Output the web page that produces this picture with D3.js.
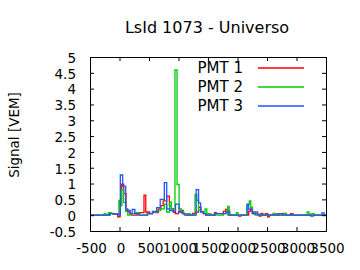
<!DOCTYPE html>
<html>
<head>
<meta charset="utf-8">
<script src="https://cdn.jsdelivr.net/npm/d3@7"></script>
<style>
  body { margin: 0; background: white; }
  text { font-family: "DejaVu Sans", sans-serif; fill: black; }
</style>
</head>
<body>
<div id="chart"></div>
<script>
var width = 360;
var height = 270;

// step data: [time ns, signal VEM] change points
var pmt1 = [[-500,0],[-170,0.06],[-110,0.03],[-30,-0.05],[10,0.3],[37,0.98],[71,0.68],[110,0.15],[140,0.1],[175,0.05],[200,0],[300,0.05],[340,0.08],[415,0.63],[445,0.1],[510,0.05],[560,0.12],[620,0.08],[660,0.2],[700,0.3],[740,0.45],[800,0.6],[845,0.3],[880,0.2],[920,0.08],[950,0.05],[1000,0.1],[1040,0.15],[1080,0.05],[1140,0],[1240,0.06],[1290,0.1],[1340,0.25],[1380,0.12],[1420,0.05],[1460,0],[1610,0.08],[1640,0.05],[1760,0.12],[1800,0.18],[1840,0],[2020,-0.03],[2060,0],[2190,0.12],[2220,0.2],[2250,0.1],[2280,0.04],[2340,0],[2370,-0.03],[2400,0.06],[2430,0],[2470,0.05],[2510,-0.05],[2540,0],[2650,0.04],[2690,0],[2780,0.06],[2820,0],[2900,0.05],[2940,0],[3500,0]];
var pmt2 = [[-500,0],[-260,0.05],[-230,0],[-190,0.08],[-140,0.05],[-90,0.03],[-10,0.47],[10,0.3],[35,0.8],[70,0.4],[105,0.12],[140,0],[170,0.03],[200,0.05],[260,0.08],[330,0],[480,0.05],[560,0.1],[640,0.15],[700,0.2],[760,0.35],[800,0.1],[850,0.42],[880,0.2],[940,4.59],[975,0.97],[1010,0.2],[1050,0.1],[1090,0.05],[1200,0],[1280,0.66],[1310,0.47],[1340,0.15],[1380,0.1],[1450,0.2],[1480,0.05],[1550,0],[1760,0.05],[1835,0.28],[1860,0],[1980,0.08],[2010,0],[2165,0.35],[2200,0.45],[2225,0.25],[2255,0.05],[2300,0],[2600,0.06],[2640,0],[2780,0.04],[2830,0],[3180,0.1],[3210,0.03],[3260,0.05],[3300,0],[3500,0]];
var pmt3 = [[-500,0],[-160,0.05],[-60,0.03],[-10,0],[14,1.27],[54,0.92],[105,0.2],[140,0.15],[180,0.05],[215,0.18],[260,0.05],[330,0],[470,0.05],[560,0.1],[630,0.24],[690,0.5],[760,1.03],[800,0.2],[850,0.15],[900,0.12],[950,0.35],[1010,0.1],[1060,0.05],[1100,0],[1300,0.81],[1340,0.39],[1375,0.1],[1420,0.05],[1460,0],[1620,0.05],[1700,0.05],[1800,0.1],[1870,0],[2160,0.34],[2190,0.18],[2250,0.05],[2300,0.1],[2340,0.03],[2380,0],[2700,0.05],[2760,0],[3240,-0.03],[3290,0],[3430,0.07],[3470,0],[3500,0]];

var seriesNames = ["PMT 1", "PMT 2", "PMT 3"];
var seriesColors = ["#ff0000", "#00cc00", "#2255ff"];
var xTicks = [-500, 0, 500, 1000, 1500, 2000, 2500, 3000, 3500];
var yTicks = [-0.5, 0, 0.5, 1, 1.5, 2, 2.5, 3, 3.5, 4, 4.5, 5];

// plot frame
var pLeft = 90, pRight = 326, pTop = 57, pBottom = 231;

var svg = d3.select("#chart")
  .append("svg")
  .attr("width", width)
  .attr("height", height);

var x = d3.scaleLinear().domain([-500, 3500]).range([pLeft, pRight]);
var y = d3.scaleLinear().domain([-0.5, 5]).range([pBottom, pTop]);

// title
svg.append("text")
  .attr("x", 207)
  .attr("y", 33)
  .attr("text-anchor", "middle")
  .style("font-size", "16px")
  .text("LsId 1073 - Universo");

// y label
svg.append("text")
  .attr("transform", "translate(19,135) rotate(-90)")
  .attr("text-anchor", "middle")
  .style("font-size", "13.5px")
  .text("Signal [VEM]");

svg.append("clipPath").attr("id", "clip")
  .append("rect")
  .attr("x", pLeft).attr("y", pTop)
  .attr("width", pRight - pLeft).attr("height", pBottom - pTop);

var line = d3.line()
  .x(function(d) { return x(d[0]); })
  .y(function(d) { return y(d[1]); })
  .curve(d3.curveStepAfter);

var allSeries = [pmt1, pmt2, pmt3];
var plot = svg.append("g").attr("clip-path", "url(#clip)");
allSeries.forEach(function(s, i) {
  plot.append("path")
    .datum(s)
    .attr("d", line)
    .attr("fill", "none")
    .attr("stroke", seriesColors[i])
    .attr("stroke-width", 1.3);
});

// axes, ticks pointing inward, mirrored
var fmt = function(d) { return String(d); };
var xAxis = svg.append("g")
  .attr("transform", "translate(1," + pBottom + ")")
  .call(d3.axisBottom(x).tickValues(xTicks).tickSize(-4).tickPadding(12).tickFormat(fmt));
var xTop = svg.append("g")
  .attr("transform", "translate(0," + pTop + ")")
  .call(d3.axisTop(x).tickValues(xTicks).tickSize(-4).tickFormat(""));
var yAxis = svg.append("g")
  .attr("transform", "translate(" + pLeft + ",1)")
  .call(d3.axisLeft(y).tickValues(yTicks).tickSize(-4).tickPadding(14).tickFormat(fmt));
var yRight = svg.append("g")
  .attr("transform", "translate(" + pRight + ",0)")
  .call(d3.axisRight(y).tickValues(yTicks).tickSize(-4).tickFormat(""));

[xAxis, xTop, yAxis, yRight].forEach(function(g) {
  g.selectAll("line").attr("stroke", "black").attr("stroke-width", 1);
  g.select(".domain").remove();
  g.selectAll("text").style("font-size", "13.5px").style("font-family", "DejaVu Sans, sans-serif").attr("fill", "black");
});
// tick lines themselves sit on the frame, undo label nudge
xAxis.selectAll("line").attr("transform", "translate(-1,0)");
yAxis.selectAll("line").attr("transform", "translate(0,-1)");

svg.append("rect")
  .attr("x", pLeft + 0.5).attr("y", pTop + 0.5)
  .attr("width", pRight - pLeft).attr("height", pBottom - pTop)
  .attr("fill", "none").attr("stroke", "black");

// legend
var legend = svg.append("g");
seriesNames.forEach(function(name, i) {
  var ly = 68 + i * 19;
  legend.append("text")
    .attr("x", 243).attr("y", ly + 5)
    .attr("text-anchor", "end")
    .style("font-size", "15px")
    .text(name);
  legend.append("line")
    .attr("x1", 258).attr("x2", 304)
    .attr("y1", ly).attr("y2", ly)
    .attr("stroke", seriesColors[i])
    .attr("stroke-width", 1.3);
});
</script>
</body>
</html>
